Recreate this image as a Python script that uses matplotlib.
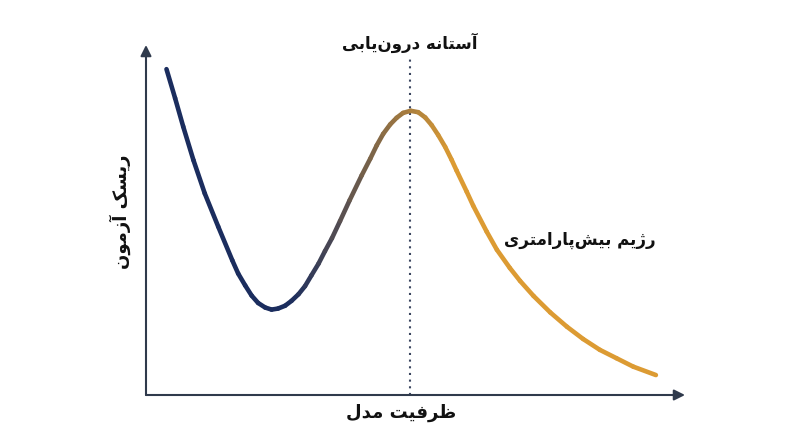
import numpy as np
import matplotlib
matplotlib.use("Agg")
import matplotlib.pyplot as plt
from matplotlib.collections import LineCollection
from matplotlib.colors import to_rgb

# ---------------- data ----------------
capacity = [0.38, 0.54, 0.69, 0.88, 1.09, 1.34, 1.60, 1.71, 1.84, 1.96, 2.08, 2.21,
            2.33, 2.45, 2.58, 2.70, 2.83, 2.95, 3.07, 3.20, 3.32, 3.45, 3.60, 3.78,
            4.00, 4.16, 4.28, 4.40, 4.53, 4.65, 4.77, 4.91, 5.05, 5.18, 5.30, 5.42,
            5.55, 5.67, 5.76, 5.95, 6.07, 6.32, 6.51, 6.75, 6.94, 7.19, 7.50, 7.81,
            8.11, 8.42, 8.73, 9.04, 9.46]
test_risk = [9.31, 8.48, 7.67, 6.71, 5.76, 4.81, 3.85, 3.47, 3.13, 2.84, 2.63, 2.50,
             2.44, 2.47, 2.55, 2.69, 2.88, 3.11, 3.42, 3.75, 4.11, 4.48, 4.97, 5.57,
             6.27, 6.75, 7.13, 7.46, 7.73, 7.92, 8.06, 8.12, 8.08, 7.93, 7.71, 7.43,
             7.09, 6.72, 6.42, 5.81, 5.41, 4.67, 4.15, 3.63, 3.26, 2.83, 2.36, 1.95,
             1.60, 1.29, 1.05, 0.81, 0.57]
threshold_x = 4.90
threshold_label = "آستانه درون\u200cیابی"
regime_label = "رژیم بیش\u200cپارامتری"
x_label = "ظرفیت مدل"
y_label = "ریسک آزمون"

# ---------------- minimal Arabic/Persian shaping ----------------
FORMS = {
    'آ': ('\uFE81', '\uFE82', None, None),
    'ا': ('\uFE8D', '\uFE8E', None, None),
    'ب': ('\uFE8F', '\uFE90', '\uFE91', '\uFE92'),
    'پ': ('\uFB56', '\uFB57', '\uFB58', '\uFB59'),
    'ت': ('\uFE95', '\uFE96', '\uFE97', '\uFE98'),
    'د': ('\uFEA9', '\uFEAA', None, None),
    'ر': ('\uFEAD', '\uFEAE', None, None),
    'ز': ('\uFEAF', '\uFEB0', None, None),
    'ژ': ('\uFB8A', '\uFB8B', None, None),
    'س': ('\uFEB1', '\uFEB2', '\uFEB3', '\uFEB4'),
    'ش': ('\uFEB5', '\uFEB6', '\uFEB7', '\uFEB8'),
    'ظ': ('\uFEC5', '\uFEC6', '\uFEC7', '\uFEC8'),
    'ف': ('\uFED1', '\uFED2', '\uFED3', '\uFED4'),
    'ک': ('\uFB8E', '\uFB8F', '\uFB90', '\uFB91'),
    'ل': ('\uFEDD', '\uFEDE', '\uFEDF', '\uFEE0'),
    'م': ('\uFEE1', '\uFEE2', '\uFEE3', '\uFEE4'),
    'ن': ('\uFEE5', '\uFEE6', '\uFEE7', '\uFEE8'),
    'ه': ('\uFEE9', '\uFEEA', '\uFEEB', '\uFEEC'),
    'و': ('\uFEED', '\uFEEE', None, None),
    'ی': ('\uFBFC', '\uFBFD', '\uFBFE', '\uFBFF'),
}


def shape(text):
    chars = list(text)
    out = []
    for i, c in enumerate(chars):
        if c not in FORMS:
            if c != '\u200c':
                out.append(c)
            continue
        prev = chars[i - 1] if i > 0 else None
        nxt = chars[i + 1] if i + 1 < len(chars) else None
        join_prev = prev in FORMS and FORMS[prev][2] is not None
        join_next = nxt in FORMS and FORMS[c][2] is not None
        iso, fin, ini, med = FORMS[c]
        if join_prev and join_next:
            out.append(med)
        elif join_prev:
            out.append(fin)
        elif join_next:
            out.append(ini)
        else:
            out.append(iso)
    return ''.join(reversed(out))


# ---------------- figure ----------------
W, H = 800, 447
fig = plt.figure(figsize=(W / 100, H / 100), dpi=100)
ax = fig.add_axes([146 / W, 1 - 395 / H, (685 - 146) / W, (395 - 45) / H])
ax.set_xlim(0, 10)
ax.set_ylim(0, 10)
ax.axis('off')

axis_col = '#2f3a4c'
ax.annotate('', xy=(0, 10), xytext=(0, 0),
            arrowprops=dict(arrowstyle='-|>', color=axis_col, lw=1.5,
                            mutation_scale=16, shrinkA=0, shrinkB=0),
            annotation_clip=False)
ax.annotate('', xy=(10, 0), xytext=(0, 0),
            arrowprops=dict(arrowstyle='-|>', color=axis_col, lw=1.5,
                            mutation_scale=16, shrinkA=0, shrinkB=0),
            annotation_clip=False)

# threshold dotted line
ax.plot([threshold_x, threshold_x], [0, 9.66], color='#3b4660', lw=1.5,
        linestyle=(0, (1, 2.2)), clip_on=False, zorder=2)

# gradient curve
x = np.asarray(capacity)
y = np.asarray(test_risk)
pts = np.column_stack([x, y]).reshape(-1, 1, 2)
segs = np.concatenate([pts[:-1], pts[1:]], axis=1)
navy = np.array(to_rgb('#1b2d5e'))
gold = np.array(to_rgb('#dc9b33'))
mid = (x[:-1] + x[1:]) / 2
t = np.clip((mid - 2.7) / (5.7 - 2.7), 0, 1)
cols = navy[None, :] * (1 - t[:, None]) + gold[None, :] * t[:, None]
lc = LineCollection(segs, colors=cols, linewidths=3.3, capstyle='round',
                    joinstyle='round', zorder=3)
ax.add_collection(lc)

font = 'DejaVu Sans'
ax.text(threshold_x, 10.06, shape(threshold_label), ha='center', va='center',
        fontsize=12, fontweight='bold', family=font, color='#111111')
ax.text(8.05, 4.43, shape(regime_label), ha='center', va='center',
        fontsize=12, fontweight='bold', family=font, color='#111111')
fig.text(401 / W, 1 - 413 / H, shape(x_label), ha='center', va='center',
         fontsize=13, fontweight='bold', family=font, color='#111111')
fig.text(120 / W, 1 - 212 / H, shape(y_label), ha='center', va='center',
         rotation=90, fontsize=13, fontweight='bold', family=font, color='#111111')

fig.savefig('out.png', dpi=100, facecolor='white')
